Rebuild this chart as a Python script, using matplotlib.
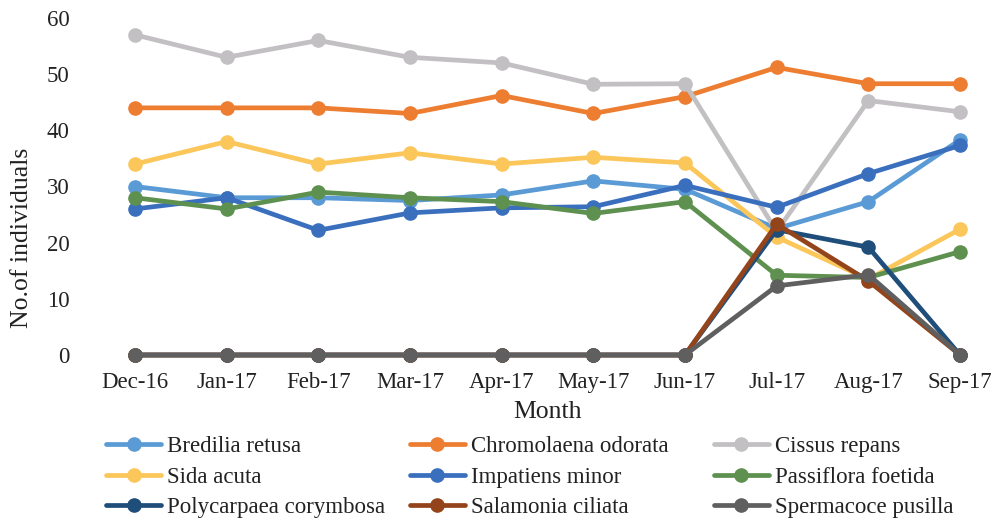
import matplotlib
matplotlib.use("Agg")
import matplotlib.pyplot as plt

months = ["Dec-16", "Jan-17", "Feb-17", "Mar-17", "Apr-17", "May-17",
          "Jun-17", "Jul-17", "Aug-17", "Sep-17"]

bredilia_retusa = [30, 28, 28, 27.5, 28.5, 31, 29.5, 22.5, 27.3, 38.3]
chromolaena_odorata = [44, 44, 44, 43, 46.2, 43, 46, 51.2, 48.3, 48.3]
cissus_repans = [57, 53, 56, 53, 52, 48.2, 48.3, 22, 45.3, 43.3]
sida_acuta = [34, 38, 34, 36, 34, 35.2, 34.2, 21, 13.5, 22.4]
impatiens_minor = [26, 28, 22.2, 25.3, 26.2, 26.4, 30.2, 26.3, 32.3, 37.3]
passiflora_foetida = [28, 26, 29, 28, 27.3, 25.2, 27.3, 14.2, 13.8, 18.4]
polycarpaea_corymbosa = [0, 0, 0, 0, 0, 0, 0, 22.3, 19.2, 0]
salamonia_ciliata = [0, 0, 0, 0, 0, 0, 0, 23.3, 13.2, 0]
spermacoce_pusilla = [0, 0, 0, 0, 0, 0, 0, 12.3, 14.3, 0]

series = [
    ("Bredilia retusa", bredilia_retusa, "#5B9BD5"),
    ("Chromolaena odorata", chromolaena_odorata, "#ED7D31"),
    ("Cissus repans", cissus_repans, "#C3C0C3"),
    ("Sida acuta", sida_acuta, "#FBC65A"),
    ("Impatiens minor", impatiens_minor, "#3A6FBE"),
    ("Passiflora foetida", passiflora_foetida, "#5E9150"),
    ("Polycarpaea corymbosa", polycarpaea_corymbosa, "#1F4E7A"),
    ("Salamonia ciliata", salamonia_ciliata, "#94441A"),
    ("Spermacoce pusilla", spermacoce_pusilla, "#5F5F5F"),
]

plt.rcParams["font.family"] = ["Liberation Serif", "DejaVu Serif"]

W, H = 1003, 530
fig = plt.figure(figsize=(W / 100, H / 100), dpi=100)
left_px, right_px, top_px, bottom_px = 80, 1000, 18, 355
ax = fig.add_axes([left_px / W, 1 - bottom_px / H,
                   (right_px - left_px) / W, (bottom_px - top_px) / H])

x = list(range(len(months)))
handles = []
for name, vals, col in series:
    h, = ax.plot(x, vals, color=col, lw=3.4, marker="o", ms=9.5,
                 label=name, clip_on=False, solid_capstyle="round")
    handles.append(h)

ax.set_xlim(-0.6, 9.436)
ax.set_ylim(0, 60)
ax.set_yticks(range(0, 61, 10))
ax.set_xticks(x)
ax.set_xticklabels(months)
for s in ax.spines.values():
    s.set_visible(False)
ax.tick_params(axis="both", length=0, labelsize=16.5, colors="#222222")
ax.tick_params(axis="y", pad=7.5)
ax.tick_params(axis="x", pad=12)

ax.set_xlabel("Month", fontsize=18.5, color="#222222")
ax.xaxis.set_label_coords((548 - left_px) / (right_px - left_px),
                          (bottom_px - 412) / (bottom_px - top_px))
ax.xaxis.label.set_va("center")
ax.set_ylabel("No.of individuals", fontsize=18.5, color="#222222")
ax.yaxis.set_label_coords((22 - left_px) / (right_px - left_px),
                          (bottom_px - 238) / (bottom_px - top_px))
ax.yaxis.label.set_va("center")

col_x = [106, 410, 714]
for c in range(3):
    hs = [handles[r * 3 + c] for r in range(3)]
    leg = fig.legend(handles=hs, loc="upper left",
                     bbox_to_anchor=(col_x[c] / W, 1 - 436 / H),
                     frameon=False, fontsize=16.5, handlelength=2.4,
                     handletextpad=0.25, labelspacing=0.42,
                     borderaxespad=0, borderpad=0)
    for t in leg.get_texts():
        t.set_color("#222222")

fig.savefig("out.png", dpi=100)
